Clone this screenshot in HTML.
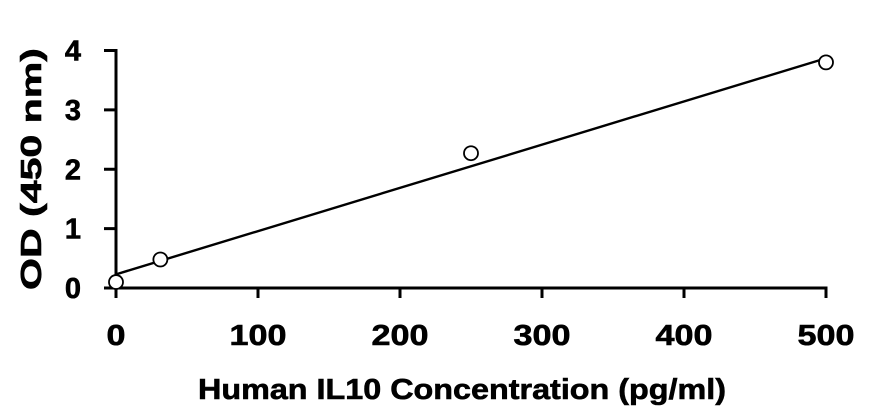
<!DOCTYPE html>
<html><head><meta charset="utf-8"><style>
body{margin:0;background:#fff;}
svg text{font-family:"Liberation Sans",Arial,sans-serif;font-weight:bold;fill:#000;stroke:#000;stroke-width:0.6px;}
</style></head><body>
<svg id="chart" width="871" height="415">
<g id="axes"></g><g id="marks"></g>
<text x="462" y="399" font-size="29" text-anchor="middle" textLength="528" lengthAdjust="spacingAndGlyphs">Human IL10 Concentration (pg/ml)</text>
<text transform="translate(41,169) rotate(-90)" font-size="29" text-anchor="middle" textLength="242" lengthAdjust="spacingAndGlyphs">OD (450 nm)</text>
</svg>
<script>
const xTicks=[0,100,200,300,400,500];
const yTicks=[0,1,2,3,4];
const conc=[0,31.25,250,500];
const od=[0.1,0.48,2.27,3.8];
const fitX=[0,500];
const fitY=[0.23,3.87];
const NS="http://www.w3.org/2000/svg";
function sx(v){return 116+v*(826-116)/500;}
function sy(v){return 288-v*(288-50.5)/4;}
function mk(t,a,p){const e=document.createElementNS(NS,t);for(const k in a)e.setAttribute(k,a[k]);p.appendChild(e);return e;}
const ax=document.getElementById('axes'),mr=document.getElementById('marks');
let l=mk('line',{x1:104,y1:sy(0),x2:sx(500)+1.5,y2:sy(0),stroke:'#000','stroke-width':3},ax);


l=mk('line',{x1:sx(0),y1:sy(0),x2:sx(0),y2:sy(4)-1.5,stroke:'#000','stroke-width':3},ax);


xTicks.forEach(v=>{
 const t=mk('line',{x1:sx(v),y1:sy(0),x2:sx(v),y2:sy(0)+10,stroke:'#000','stroke-width':3},ax);
 
 
 const tx=mk('text',{x:sx(v),y:345,'font-size':29,'text-anchor':'middle',textLength:String(v).length*19,lengthAdjust:'spacingAndGlyphs'},ax);tx.textContent=v;
 
 
});
yTicks.forEach(v=>{
 const t=mk('line',{x1:104,y1:sy(v),x2:sx(0),y2:sy(v),stroke:'#000','stroke-width':3},ax);
 
 
 const tx=mk('text',{x:73,y:sy(v)+10,'font-size':29,'text-anchor':'middle'},ax);tx.textContent=v;
 
 
});
const fl=mk('line',{x1:sx(fitX[0]),y1:sy(fitY[0]),x2:sx(fitX[1]),y2:sy(fitY[1]),stroke:'#000','stroke-width':2.4},mr);


conc.forEach((c,i)=>{
 const p=mk('circle',{cx:sx(c),cy:sy(od[i]),r:7,fill:'#fff',stroke:'#000','stroke-width':1.8},mr);
 
 
});
</script>
</body></html>
